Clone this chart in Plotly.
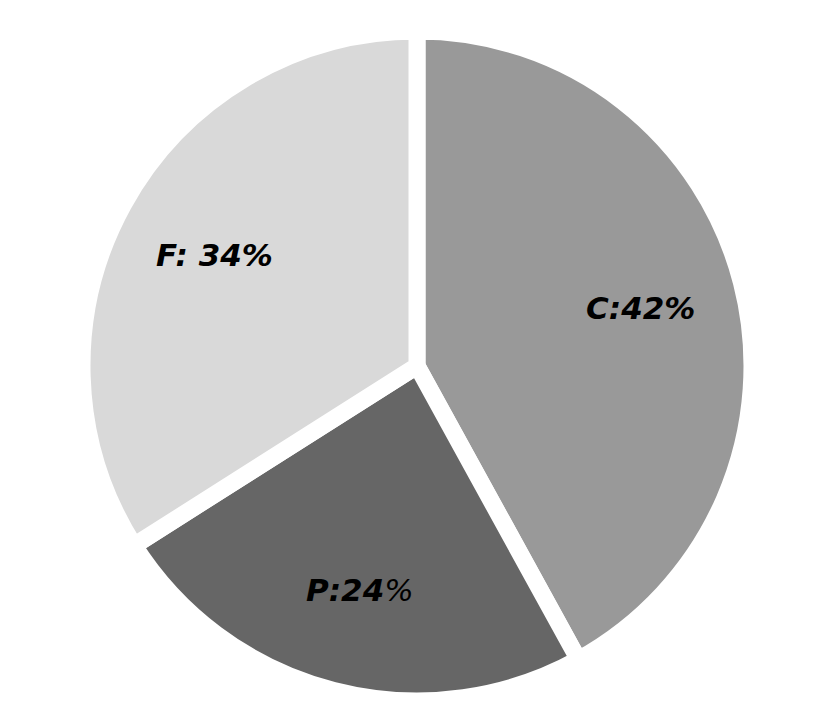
import math
import plotly.graph_objects as go

categories = ["C", "P", "F"]
values = [42, 24, 34]
slice_text = ["<b>C:42%</b>", "<b>P:24</b>%", "<b>F: 34%</b>"]
colors = ["#999999", "#666666", "#d9d9d9"]

W, H = 824, 712
dom_x = [0.0898, 0.9029]
dom_y = [0.0267, 0.9678]

fig = go.Figure(go.Pie(
    labels=categories,
    values=values,
    textinfo="none",
    sort=False,
    direction="clockwise",
    rotation=0,
    marker=dict(colors=colors, line=dict(color="white", width=17)),
    domain=dict(x=dom_x, y=dom_y),
    showlegend=False,
    hoverinfo="label+percent",
))

# label positions derived from the data (slice bisectors)
cx = (dom_x[0] + dom_x[1]) / 2
cy = (dom_y[0] + dom_y[1]) / 2
radius_px = min((dom_x[1] - dom_x[0]) * W, (dom_y[1] - dom_y[0]) * H) / 2
label_r = 0.69 * radius_px
total = sum(values)
cum = 0
annotations = []
for v, t in zip(values, slice_text):
    mid = (cum + v / 2) / total * 2 * math.pi
    cum += v
    annotations.append(dict(
        x=cx + label_r * math.sin(mid) / W,
        y=cy + label_r * math.cos(mid) / H,
        xref="paper", yref="paper",
        text=t, showarrow=False,
        font=dict(family="DejaVu Sans", size=31, color="black", style="italic"),
        xanchor="center", yanchor="middle",
    ))

fig.update_layout(
    width=W, height=H,
    margin=dict(l=0, r=0, t=0, b=0),
    paper_bgcolor="white",
    plot_bgcolor="white",
    annotations=annotations,
)

fig.write_html("out.html")
